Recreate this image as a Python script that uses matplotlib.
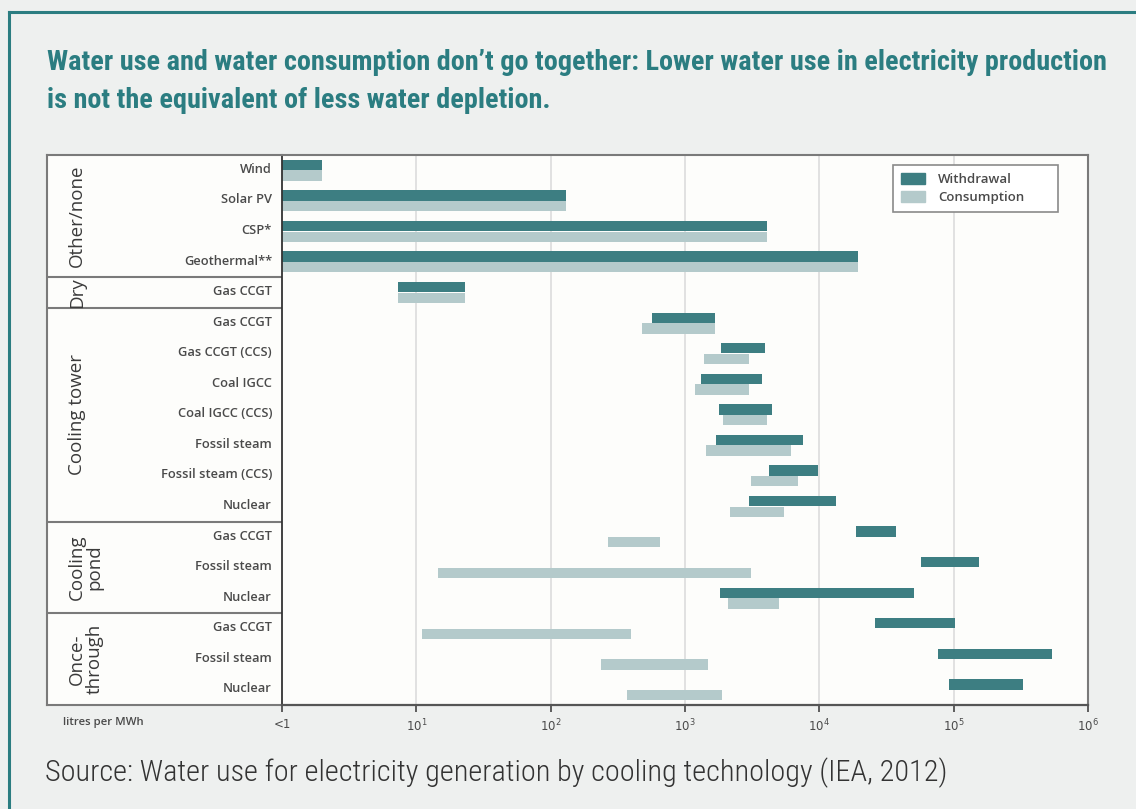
import numpy as np
import matplotlib
matplotlib.use('Agg')
import matplotlib.pyplot as plt
from matplotlib import font_manager
from matplotlib.patches import Patch
from matplotlib.lines import Line2D
import matplotlib.transforms as mtransforms

# ---- data (litres per MWh) ----
techs = ['Wind', 'Solar PV', 'CSP*', 'Geothermal**',
         'Gas CCGT',
         'Gas CCGT', 'Gas CCGT (CCS)', 'Coal IGCC', 'Coal IGCC (CCS)',
         'Fossil steam', 'Fossil steam (CCS)', 'Nuclear',
         'Gas CCGT', 'Fossil steam', 'Nuclear',
         'Gas CCGT', 'Fossil steam', 'Nuclear']

withdraw_lo = [1, 1, 1, 1, 7.3, 565, 1860, 1310, 1780, 1700, 4230, 3000,
               18600, 56800, 1820, 26000, 76000, 92000]
withdraw_hi = [2, 130, 4100, 19500, 23, 1670, 3960, 3730, 4450, 7600, 9700, 13400,
               37500, 154000, 51000, 102000, 538000, 327000]
consume_lo = [1, 1, 1, 1, 7.3, 480, 1380, 1180, 1930, 1440, 3100, 2170,
              267, 14.6, 2100, 11, 237, 370]
consume_hi = [2, 130, 4100, 19500, 23, 1670, 3000, 3000, 4100, 6200, 6950, 5470,
              650, 3120, 5040, 395, 1480, 1900]

groups = ['Other/none', 'Dry', 'Cooling tower', 'Cooling\npond', 'Once-\nthrough']
group_sizes = [4, 1, 7, 3, 3]

xticks = [1, 10, 100, 1000, 10000, 100000, 1000000]
xticklabels = ['<1', '$10^{1}$', '$10^{2}$', '$10^{3}$', '$10^{4}$', '$10^{5}$', '$10^{6}$']

title_lines = ["Water use and water consumption don\u2019t go together: Lower water use in electricity production",
               "is not the equivalent of less water depletion."]
source_txt = "Source: Water use for electricity generation by cooling technology (IEA, 2012)"

# ---- colours ----
teal = '#2b7d81'
c_with = '#3d7e82'
c_cons = '#b4cacb'
bg = '#eef0ef'
grey_txt = '#4a4a4a'


def pick_font(names):
    for n in names:
        try:
            font_manager.findfont(font_manager.FontProperties(family=n), fallback_to_default=False)
            return n
        except Exception:
            pass
    return 'DejaVu Sans'


head_font = pick_font(['Roboto Condensed', 'Liberation Sans Narrow', 'Roboto'])
body_font = pick_font(['Roboto Condensed', 'Liberation Sans Narrow', 'Roboto'])
chart_font = pick_font(['Open Sans', 'Noto Sans', 'DejaVu Sans'])

W, H = 1136, 809
fig = plt.figure(figsize=(W / 100, H / 100), dpi=100, facecolor=bg)


def px(x, y):
    # pixel coords (top-left origin) -> figure fraction
    return x / W, 1 - y / H


# outer teal frame (top and left)
fig.add_artist(Line2D([9 / W, 1.0], [1 - 12 / H] * 2, color=teal, lw=2.2, transform=fig.transFigure))
fig.add_artist(Line2D([9 / W] * 2, [0.0, 1 - 12 / H], color=teal, lw=2.2, transform=fig.transFigure))

# axes positions
top, bot = 155, 705
ax_l = fig.add_axes([47 / W, 1 - bot / H, 235 / W, (bot - top) / H])
ax = fig.add_axes([282 / W, 1 - bot / H, 806 / W, (bot - top) / H])

n = len(techs)
y = np.arange(n)
h = 0.34
off = 0.175

wl = np.array(withdraw_lo); wh = np.array(withdraw_hi)
cl = np.array(consume_lo); ch = np.array(consume_hi)

ax.set_facecolor('#fdfdfb')
for xv in xticks[1:-1]:
    ax.axvline(xv, color='#dcdcdc', lw=1.2, zorder=0)
ax.barh(y - off, wh - wl, left=wl, height=h, color=c_with, zorder=2)
ax.barh(y + off, ch - cl, left=cl, height=h, color=c_cons, zorder=2)

ax.set_xscale('log')
ax.set_xlim(1, 1e6)
ax.set_ylim(n - 0.5, -0.5)
ax.set_yticks([])
ax.set_xticks(xticks)
ax.set_xticklabels(xticklabels)
ax.minorticks_off()
ax.tick_params(axis='x', length=5, width=1.2, color='#444', labelsize=8.5, labelcolor=grey_txt, pad=4)
for s in ['top', 'right']:
    ax.spines[s].set_color('#7a7a7a')
    ax.spines[s].set_linewidth(1.5)
ax.spines['bottom'].set_color('#555')
ax.spines['bottom'].set_linewidth(1.6)
ax.spines['left'].set_color('#333')
ax.spines['left'].set_linewidth(1.3)

# legend box stretched to the width seen in the picture
leg = ax.legend(handles=[Patch(color=c_with, label='Withdrawal'), Patch(color=c_cons, label='Consumption')],
                loc='upper right', bbox_to_anchor=(0.758, 0.0, 0.205, 0.982), mode='expand',
                frameon=True, fancybox=False, framealpha=1, edgecolor='#8a8a8a',
                handlelength=1.8, handleheight=0.9, handletextpad=1.0, borderpad=0.6,
                borderaxespad=0, labelspacing=0.4,
                prop={'family': chart_font, 'size': 9.5, 'weight': 'semibold'})
leg.get_frame().set_linewidth(1.2)
for t in leg.get_texts():
    t.set_color(grey_txt)

# label column
ax_l.set_facecolor('#fdfdfb')
ax_l.set_xlim(0, 1)
ax_l.set_ylim(n - 0.5, -0.5)
ax_l.set_xticks([]); ax_l.set_yticks([])
for s in ax_l.spines.values():
    s.set_color('#7a7a7a')
    s.set_linewidth(1.5)
ax_l.spines['right'].set_visible(False)

trans = mtransforms.blended_transform_factory(ax_l.transAxes, ax_l.transData)
for i, t in enumerate(techs):
    ax_l.text((272 - 47) / 235, i - 0.03, t, transform=trans, ha='right', va='center',
              fontsize=9.3, color=grey_txt, family=chart_font, fontweight='semibold')

start = 0
for g, sz in zip(groups, group_sizes):
    mid = start + (sz - 1) / 2
    ax_l.text((68 - 47) / 235, mid, g, transform=trans, rotation=90, ha='left', va='center',
              multialignment='center', fontsize=13.5, color='#3a3a3a', family=chart_font,
              linespacing=0.95)
    start += sz
    if start < n:
        ax_l.axhline(start - 0.5, color='#7a7a7a', lw=1.5)

fig.text(*px(63, 722), 'litres per MWh', ha='left', va='center', fontsize=8.2,
         color=grey_txt, family=chart_font, fontweight='semibold')

# title and source, fitted to the widths in the picture
renderer = fig.canvas.get_renderer()


def fit_text(x, yb, txt, width_px, **kw):
    t = fig.text(*px(x, yb), txt, ha='left', va='baseline', fontsize=20, **kw)
    w = t.get_window_extent(renderer).width
    t.set_fontsize(20 * width_px / w)
    return t


t1 = fit_text(47, 70, title_lines[0], 1057, color=teal, fontweight='bold', family=head_font)
t2 = fig.text(*px(47, 108), title_lines[1], ha='left', va='baseline', color=teal,
              fontweight='bold', family=head_font)
t2.set_fontsize(t1.get_fontsize())
fit_text(45, 781, source_txt, 900, color='#333333', family=body_font, fontweight='light')

fig.savefig('out.png', dpi=100, facecolor=bg)
print('Ended.')
